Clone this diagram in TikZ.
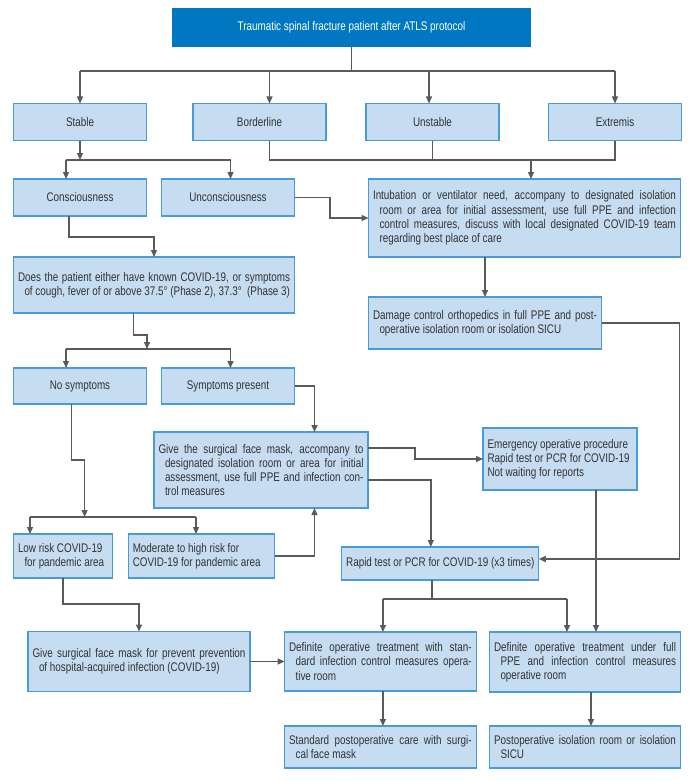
\documentclass[tikz,border=0pt]{standalone}
\usepackage{fontspec}
\newfontfamily\chartfont{Liberation Sans}[FakeStretch=0.79]
\usetikzlibrary{arrows.meta, positioning, calc}
\definecolor{headBlue}{HTML}{0077C1}
\definecolor{boxFill}{HTML}{C5DCF1}
\definecolor{boxEdge}{HTML}{4A9AD6}
\definecolor{lineGray}{HTML}{5A5A5A}
\definecolor{textGray}{HTML}{333333}
\tolerance=9999
\hbadness=10000

\begin{document}
\begin{tikzpicture}[x=1pt, y=-1pt,
    box/.style={draw=boxEdge, fill=boxFill, line width=1.2pt, inner sep=3pt, outer sep=0pt,
        font=\chartfont\fontsize{12.5}{14.2}\selectfont, text=textGray, align=center},
    para/.style={box, align=justify, inner sep=4.5pt, text width=#1},
    hang/.style={execute at begin node={\hangindent=6.5pt\hangafter=1}},
    link/.style={draw=lineGray, line width=1.4pt},
    arr/.style={link, -{Triangle[length=7pt, width=6pt]}}]
        \useasboundingbox (0,0) rectangle (700,781);

        % Top
        \node[box, fill=headBlue, draw=headBlue, text=white, minimum width=358, minimum height=37] (patient) at (351.5,27.5) {Traumatic spinal fracture patient after ATLS protocol};

        % Stability
        \node[box, minimum width=133, minimum height=37] (stable) at (80,122) {Stable};
        \node[box, minimum width=133, minimum height=37] (border) at (259.5,122) {Borderline};
        \node[box, minimum width=133, minimum height=37] (unstable) at (432.5,122) {Unstable};
        \node[box, minimum width=133, minimum height=37] (extremis) at (615,122) {Extremis};

        % Consciousness
        \node[box, minimum width=133, minimum height=37] (consc) at (80,197.5) {Consciousness};
        \node[box, minimum width=133, minimum height=37] (unconsc) at (228,197.5) {Unconsciousness};
        \node[para=303pt, hang, minimum height=78] (intub) at (524.5,218) {Intubation or ventilator need, accompany to designated isolation\linebreak room or area for initial assessment, use full PPE and infection\linebreak control measures, discuss with local designated COVID-19 team\linebreak regarding best place of care};

        % Screening
        \node[para=272pt, hang, minimum height=56] (quest) at (154,285) {Does the patient either have known COVID-19, or symptoms\linebreak of cough, fever of or above 37.5° (Phase 2), 37.3°~~(Phase 3)};
        \node[para=224pt, hang, minimum height=52] (damage) at (485,323) {Damage control orthopedics in full PPE and post-\linebreak operative isolation room or isolation SICU};
        \node[box, minimum width=133, minimum height=36] (nosym) at (80,386) {No symptoms};
        \node[box, minimum width=133, minimum height=36] (sympres) at (228,386) {Symptoms present};
        \node[para=205pt, hang, minimum height=76] (mask) at (261,470) {Give the surgical face mask, accompany to\linebreak designated isolation room or area for initial\linebreak assessment, use full PPE and infection con-\linebreak trol measures};
        \node[para=145pt, minimum height=62] (emerg) at (560,459) {Emergency operative procedure\\ Rapid test or PCR for COVID-19\\ Not waiting for reports};

        % Risk
        \node[para=90pt, hang, minimum height=44] (low) at (63,556) {Low risk COVID-19\\ for pandemic area};
        \node[para=137.5pt, minimum height=44] (mod) at (201.5,556) {Moderate to high risk for\\ COVID-19 for pandemic area};
        \node[box, minimum width=197, minimum height=33] (rapid) at (440.3,563.5) {Rapid test or PCR for COVID-19 (x3 times)};

        % Treatment
        \node[para=213pt, hang, minimum height=60] (surg) at (139,661.5) {Give surgical face mask for prevent prevention\linebreak of hospital-acquired infection (COVID-19)};
        \node[para=182.6pt, hang, minimum height=59] (def1) at (380.4,661.5) {Definite operative treatment with stan-\linebreak dard infection control measures opera-\linebreak tive room};
        \node[para=182pt, hang, minimum height=60] (def2) at (585,662) {Definite operative treatment under full\linebreak PPE and infection control measures\linebreak operative room};
        \node[para=182.6pt, hang, minimum height=42] (std) at (380.4,747) {Standard postoperative care with surgi-\linebreak cal face mask};
        \node[para=182pt, hang, minimum height=42] (postop) at (585,747) {Postoperative isolation room or isolation\linebreak SICU};

        % Split from top
        \coordinate (hubTop) at (0,71);
        \draw[link] (patient.south) -- (patient.south |- hubTop);
        \draw[link] (stable.north |- hubTop) -- (extremis.north |- hubTop);
        \foreach \n/\s in {stable/0, border/10, unstable/-3.5, extremis/0}
            \draw[arr] ([xshift=\s pt]\n.north |- hubTop) -- ([xshift=\s pt]\n.north);

        % Join to intubation
        \coordinate (hubJoin) at (0,160);
        \draw[link] ([xshift=10pt]border.south) -- ([xshift=10pt]border.south |- hubJoin) -- (extremis.south |- hubJoin) -- (extremis.south);
        \draw[link] (unstable.south) -- (unstable.south |- hubJoin);
        \draw[arr] ([xshift=6.5pt]intub.north |- hubJoin) -- ([xshift=6.5pt]intub.north);

        % Split from stable
        \draw[arr] (stable.south) -- (stable.south |- hubJoin);
        \draw[link] ([xshift=-14pt]consc.north |- hubJoin) -- ([xshift=2.5pt]unconsc.north |- hubJoin);
        \draw[arr] ([xshift=-14pt]consc.north |- hubJoin) -- ([xshift=-14pt]consc.north);
        \draw[arr] ([xshift=2.5pt]unconsc.north |- hubJoin) -- ([xshift=2.5pt]unconsc.north);

        \draw[arr] (unconsc.east) -- ++(35.5,0) |- (intub.west);
        \draw[arr] ([xshift=-11pt]consc.south) -- ++(0,21) -| (quest.north);
        \draw[arr] (damage.north |- intub.south) -- (damage.north);
        \draw[arr] (damage.east) -- ++(78,0) |- ([yshift=4.5pt]rapid.east);

        % Split on symptoms
        \coordinate (hubSym) at (0,349);
        \draw[arr] ([xshift=-20.5pt]quest.south) -- ++(0,22) -| ([xshift=-7pt]quest.south |- hubSym);
        \draw[link] ([xshift=-14pt]nosym.north |- hubSym) -- ([xshift=2.5pt]sympres.north |- hubSym);
        \draw[arr] ([xshift=-14pt]nosym.north |- hubSym) -- ([xshift=-14pt]nosym.north);
        \draw[arr] ([xshift=2.5pt]sympres.north |- hubSym) -- ([xshift=2.5pt]sympres.north);

        \draw[arr] (sympres.east) -| ([xshift=53.5pt]mask.north);
        \draw[arr] ([yshift=22pt]mask.east) -- ++(47,0) |- (emerg.west);
        \draw[arr] ([yshift=-10pt]mask.east) -| ([xshift=-9.5pt]rapid.north);
        \draw[arr] ([xshift=36pt]emerg.south) -- ([xshift=36pt]emerg.south |- def2.north);

        % Split on risk
        \coordinate (hubRisk) at (0,517);
        \draw[arr] ([xshift=-8.7pt]nosym.south) -- ++(0,56) -| ([xshift=4.6pt]nosym.south |- hubRisk);
        \draw[link] ([xshift=-33pt]low.north |- hubRisk) -- ([xshift=-5.5pt]mod.north |- hubRisk);
        \draw[arr] ([xshift=-33pt]low.north |- hubRisk) -- ([xshift=-33pt]low.north);
        \draw[arr] ([xshift=-5.5pt]mod.north |- hubRisk) -- ([xshift=-5.5pt]mod.north);
        \draw[arr] (mod.east) -| ([xshift=53.5pt]mask.south);

        % Split to definite treatment
        \coordinate (hubDef) at (0,599);
        \draw[link] ([xshift=-8.5pt]rapid.south) -- ([xshift=-8.5pt]rapid.south |- hubDef);
        \draw[link] ([xshift=2.5pt]def1.north |- hubDef) -- ([xshift=-18pt]def2.north |- hubDef);
        \draw[arr] ([xshift=2.5pt]def1.north |- hubDef) -- ([xshift=2.5pt]def1.north);
        \draw[arr] ([xshift=-18pt]def2.north |- hubDef) -- ([xshift=-18pt]def2.north);

        \draw[arr] (low.south) -- ++(0,26) -| (surg.north);
        \draw[arr] (surg.east) -- (def1.west);
        \draw[arr] ([xshift=2.5pt]def1.south) -- ([xshift=2.5pt]std.north);
        \draw[arr] ([xshift=6pt]def2.south) -- ([xshift=6pt]postop.north);
    \end{tikzpicture}
\end{document}
